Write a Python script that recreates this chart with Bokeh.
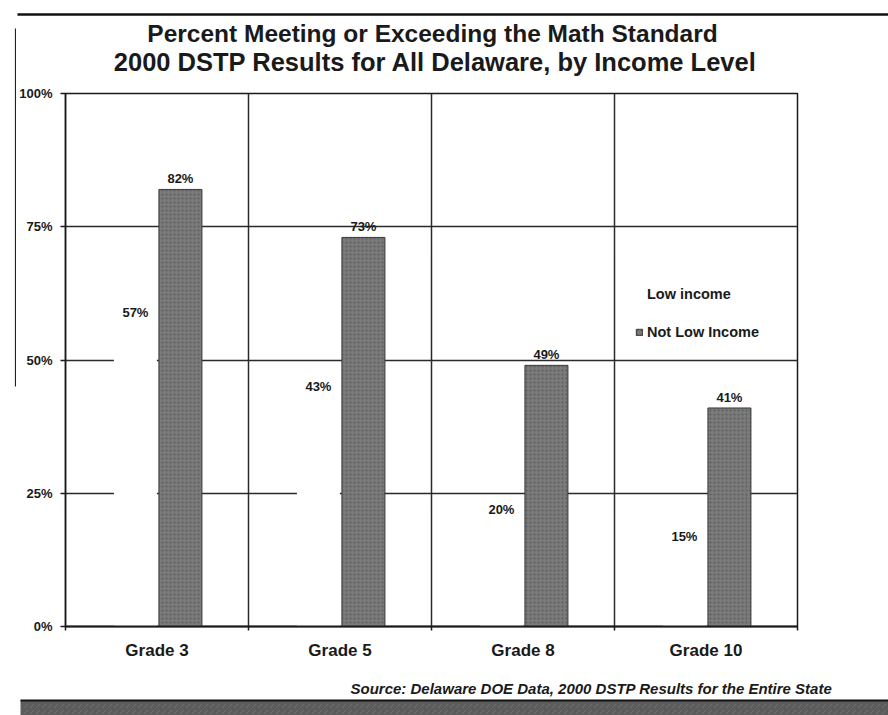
from bokeh.plotting import figure
from bokeh.layouts import row, column
from bokeh.models import (ColumnDataSource, FixedTicker, PrintfTickFormatter,
                          Legend, LegendItem, Range1d)
from bokeh.transform import dodge
from bokeh.core.properties import value
from bokeh.embed import file_html
from bokeh.resources import INLINE

# DSTP 2000 math results, percent meeting or exceeding the standard
grades = ["Grade 3", "Grade 5", "Grade 8", "Grade 10"]
low_income = [57, 43, 20, 15]
not_low_income = [82, 73, 49, 41]
y_ticks = [0, 25, 50, 75, 100]

title_lines = ["Percent Meeting or Exceeding the Math Standard",
               "2000 DSTP Results for All Delaware, by Income Level"]
source_note = "Source:  Delaware DOE Data, 2000 DSTP Results for the Entire State"

FONT = "Liberation Sans"
INK = "#1a1a1a"

STRIP_W = 16            # left margin strip carrying the page rule
COL_W = 888 - STRIP_W   # heading / chart / footer column
HEAD_H = 80
FOOT_H = 43
MAIN_H = 715 - HEAD_H - FOOT_H


def blank(width, height):
    """A bare drawing surface measured in pixels from the top-left corner."""
    f = figure(width=width, height=height, output_backend="svg", toolbar_location=None,
               x_range=Range1d(0, width), y_range=Range1d(height, 0),
               x_axis_type=None, y_axis_type=None, min_border=0, frame_align=False)
    f.outline_line_color = None
    f.grid.visible = False
    f.background_fill_color = "white"
    f.border_fill_color = "white"
    return f


# ---- left strip: thin vertical page rule
strip = blank(STRIP_W, 715)
strip.segment(x0=[15], y0=[28], x1=[15], y1=[386], line_color="#222222", line_width=1.2)

# ---- heading with top rule
head = blank(COL_W, HEAD_H)
head.segment(x0=[1], y0=[14], x1=[COL_W], y1=[14], line_color="#111111", line_width=2.5)
head.text(x=[432 - STRIP_W], y=[33], text=[title_lines[0]],
          text_align="center", text_baseline="middle",
          text_font=value(FONT), text_font_style="bold", text_font_size="24.5px",
          text_color=INK)
head.text(x=[435 - STRIP_W], y=[61], text=[title_lines[1]],
          text_align="center", text_baseline="middle",
          text_font=value(FONT), text_font_style="bold", text_font_size="25.5px",
          text_color=INK)

# ---- chart
src = ColumnDataSource(dict(
    x=[i + 0.5 for i in range(len(grades))],
    low=low_income,
    high=not_low_income,
    low_txt=[f"{v}%" for v in low_income],
    high_txt=[f"{v}%" for v in not_low_income],
))

p = figure(width=COL_W, height=MAIN_H, output_backend="svg", toolbar_location=None,
           x_range=Range1d(0, len(grades)), y_range=Range1d(0, 100), frame_align=False,
           min_border_left=65 - STRIP_W, min_border_right=91,
           min_border_top=93 - HEAD_H, min_border_bottom=MAIN_H - 533 - (93 - HEAD_H))
p.background_fill_color = "white"
p.border_fill_color = "white"
p.outline_line_color = INK
p.outline_line_width = 1.5

p.xaxis.ticker = FixedTicker(ticks=src.data["x"], minor_ticks=list(range(len(grades) + 1)))
p.xaxis.major_label_overrides = {x: g for x, g in zip(src.data["x"], grades)}
p.xaxis.major_tick_line_color = None
p.xaxis.minor_tick_in = 0
p.xaxis.minor_tick_out = 4
p.xaxis.minor_tick_line_color = INK
p.xaxis.minor_tick_line_width = 1.5
p.xaxis.major_label_standoff = 8
p.xaxis.major_label_text_font = FONT
p.xaxis.major_label_text_font_style = "bold"
p.xaxis.major_label_text_font_size = "17px"
p.xaxis.major_label_text_color = INK
p.xaxis.axis_line_color = INK
p.xaxis.axis_line_width = 2

p.yaxis.ticker = FixedTicker(ticks=y_ticks)
p.yaxis.formatter = PrintfTickFormatter(format="%d%%")
p.yaxis.minor_tick_line_color = None
p.yaxis.major_tick_in = 0
p.yaxis.major_tick_out = 5
p.yaxis.major_tick_line_color = INK
p.yaxis.major_tick_line_width = 1.5
p.yaxis.major_label_standoff = 8
p.yaxis.major_label_text_font = FONT
p.yaxis.major_label_text_font_style = "bold"
p.yaxis.major_label_text_font_size = "13px"
p.yaxis.major_label_text_color = INK
p.yaxis.axis_line_color = INK
p.yaxis.axis_line_width = 1.5

# horizontal grid at the value ticks, vertical grid between grade groups
p.ygrid.ticker = FixedTicker(ticks=y_ticks[1:])
p.ygrid.grid_line_color = "#2a2a2a"
p.ygrid.grid_line_width = 1.5
p.xgrid.ticker = FixedTicker(ticks=list(range(1, len(grades))))
p.xgrid.grid_line_color = "#2a2a2a"
p.xgrid.grid_line_width = 1.5

bar_w = 0.235
low_r = p.vbar(x=dodge("x", -0.118), top="low", width=bar_w, source=src,
               fill_color="white", line_color=None)
high_r = p.vbar(x=dodge("x", 0.128), top="high", width=bar_w, source=src,
                fill_color="#7a7a7a", line_color="#3a3a3a", line_width=1,
                hatch_pattern=".", hatch_color="#4a4a4a", hatch_alpha=0.6,
                hatch_scale=4, hatch_weight=1)

lbl = dict(text_align="center", text_baseline="bottom", y_offset=-3,
           text_font=value(FONT), text_font_style="bold", text_font_size="13px",
           text_color=INK, source=src)
p.text(x=dodge("x", -0.118), y="low", text="low_txt", **lbl)
p.text(x=dodge("x", 0.128), y="high", text="high_txt", **lbl)

legend = Legend(items=[LegendItem(label="Low income", renderers=[low_r]),
                       LegendItem(label="Not Low Income", renderers=[high_r])],
                location=(570, 286), orientation="vertical",
                glyph_width=8, glyph_height=8, label_height=16, spacing=22,
                padding=0, margin=0, label_standoff=4,
                label_text_font=FONT, label_text_font_size="14.5px",
                label_text_font_style="bold", label_text_color=INK,
                border_line_color=None, background_fill_alpha=0)
p.add_layout(legend, "center")

# ---- footer: source note and dark band
foot = blank(COL_W, FOOT_H)
foot.text(x=[836 - STRIP_W], y=[688 - (715 - FOOT_H)], text=[source_note],
          text_align="right", text_baseline="middle",
          text_font=value(FONT), text_font_style="bold italic", text_font_size="15px",
          text_color=INK)
band_top = 700 - (715 - FOOT_H)
foot.quad(left=[4], right=[COL_W], top=[band_top], bottom=[FOOT_H],
          fill_color="#5c5c5c", line_color=None,
          hatch_pattern=",", hatch_color="#8a8a8a", hatch_alpha=0.5, hatch_scale=6)
foot.segment(x0=[4], y0=[band_top], x1=[COL_W], y1=[band_top],
             line_color="#111111", line_width=2)

layout = row(strip, column(head, p, foot, spacing=0), spacing=0)
open("out.html", "w").write(file_html(layout, INLINE))
